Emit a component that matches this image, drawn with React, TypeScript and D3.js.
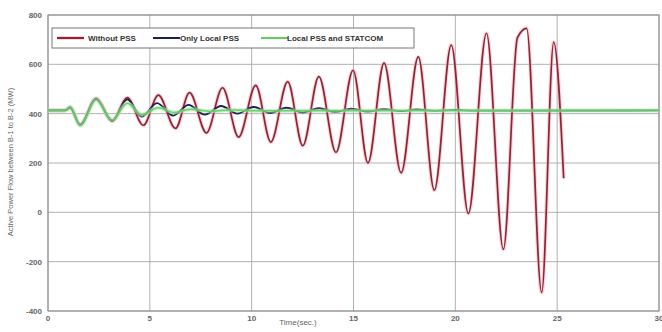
import React from "react";
import * as d3 from "d3";

const xTicks = [0, 5, 10, 15, 20, 25, 30];
const yTicks = [-400, -200, 0, 200, 400, 600, 800];

// Extremes of each trace (time in s, power in MW)
const redT = [0, 0.84, 1.08, 1.58, 2.36, 3.15, 3.89, 4.68, 5.42, 6.26, 6.95, 7.78, 8.57, 9.36, 10.2, 10.94, 11.77, 12.51, 13.3, 14.14, 14.98, 15.71, 16.5, 17.34, 18.18, 18.97, 19.8, 20.64, 21.53, 22.36, 23.05, 23.5, 24.24, 24.83, 25.32];
const redV = [413, 413, 425, 355, 462, 370, 465, 353, 475, 340, 485, 322, 505, 305, 515, 285, 530, 270, 550, 243, 576, 200, 605, 160, 630, 90, 678, -5, 726, -150, 708, 746, -325, 690, 138];

const blackT = [0, 0.84, 1.08, 1.58, 2.36, 3.15, 3.89, 4.6, 5.35, 6.15, 6.9, 7.7, 8.5, 9.3, 10.1, 10.9, 11.7, 12.5, 13.3, 14.1, 14.9, 15.7, 16.5, 17.3, 18.1, 19, 20, 21, 30];
const blackV = [413, 413, 425, 355, 460, 370, 458, 388, 443, 392, 436, 396, 431, 400, 427, 403, 424, 405, 422, 407, 420, 408, 418, 410, 417, 411, 415, 412, 413];

const greenT = [0, 0.84, 1.08, 1.58, 2.36, 3.15, 3.89, 4.6, 5.4, 6.2, 7, 8, 9, 10, 30];
const greenV = [413, 413, 428, 352, 456, 374, 442, 396, 424, 405, 418, 410, 415, 412, 413];

const seriesNames = ["Without PSS", "Only Local PSS", "Local PSS and STATCOM"];

export default function App() {
  const W = 662, H = 332;
  const left = 48, right = 659, top = 15, bottom = 311;
  const x = d3.scaleLinear().domain([0, 30]).range([left, right]);
  const y = d3.scaleLinear().domain([-400, 800]).range([bottom, top]);
  const line = d3
    .line<[number, number]>()
    .x((d) => x(d[0]))
    .y((d) => y(d[1]))
    .curve(d3.curveMonotoneX);
  const zip = (a: number[], b: number[]) => a.map((t, i) => [t, b[i]] as [number, number]);
  const red = line(zip(redT, redV)) || "";
  const black = line(zip(blackT, blackV)) || "";
  const green = line(zip(greenT, greenV)) || "";
  const font = "'Liberation Sans', Arial, sans-serif";

  const legendY = 38;
  const legendItems = [
    { x0: 57, tx: 88, color: "#8e2535", name: seriesNames[0] },
    { x0: 153, tx: 180, color: "#1c2050", name: seriesNames[1] },
    { x0: 261, tx: 287, color: "#5fcf5f", name: seriesNames[2] },
  ];

  return (
    <svg
      width={W}
      height={H}
      style={{ position: "absolute", left: 0, top: 0, display: "block", background: "#fff" }}
    >
      <rect x={0} y={0} width={W} height={H} fill="#fff" />
      {xTicks.map((t) => (
        <line key={"gx" + t} x1={x(t)} x2={x(t)} y1={top} y2={bottom} stroke="#a8a8a8" strokeWidth={0.9} />
      ))}
      {yTicks.map((v) => (
        <line key={"gy" + v} x1={left} x2={right} y1={y(v)} y2={y(v)} stroke="#a8a8a8" strokeWidth={0.9} />
      ))}
      <rect x={left} y={top} width={right - left} height={bottom - top} fill="none" stroke="#8a8a8a" strokeWidth={1} />
      {yTicks.map((v) => (
        <text key={"ty" + v} x={left - 6} y={y(v) + 3} textAnchor="end" fontSize={8} fontWeight="bold" fill="#666" fontFamily={font}>
          {v}
        </text>
      ))}
      {xTicks.map((t) => (
        <text key={"tx" + t} x={x(t)} y={321} textAnchor="middle" fontSize={8} fontWeight="bold" fill="#666" fontFamily={font}>
          {t}
        </text>
      ))}
      <text x={298} y={325} textAnchor="middle" fontSize={8} fill="#666" fontFamily={font}>
        Time(sec.)
      </text>
      <text
        transform={`translate(13, 162) rotate(-90)`}
        textAnchor="middle"
        fontSize={7.5}
        fill="#666"
        fontFamily={font}
      >
        Active Power Flow between B-1 to B-2 (MW)
      </text>
      <path d={red} fill="none" stroke="#f6b3bf" strokeWidth={4} strokeOpacity={0.55} />
      <path d={red} fill="none" stroke="#8e2535" strokeWidth={1.7} />
      <path d={black} fill="none" stroke="#1c2050" strokeWidth={1.8} />
      <path d={green} fill="none" stroke="#a8e6a8" strokeWidth={4} strokeOpacity={0.6} />
      <path d={green} fill="none" stroke="#5fcf5f" strokeWidth={1.5} strokeOpacity={0.9} />
      <rect x={52} y={28} width={362} height={20} fill="#fff" stroke="#777" strokeWidth={1} />
      {legendItems.map((it, i) => (
        <g key={"lg" + i}>
          {i === 0 && <line x1={it.x0} x2={it.x0 + 27} y1={legendY} y2={legendY} stroke="#f6b3bf" strokeWidth={4} strokeOpacity={0.55} />}
          <line x1={it.x0} x2={it.x0 + 27} y1={legendY} y2={legendY} stroke={it.color} strokeWidth={2} />
          <text x={it.tx} y={legendY + 3} fontSize={8} fontWeight="bold" fill="#333" fontFamily={font}>
            {it.name}
          </text>
        </g>
      ))}
    </svg>
  );
}
